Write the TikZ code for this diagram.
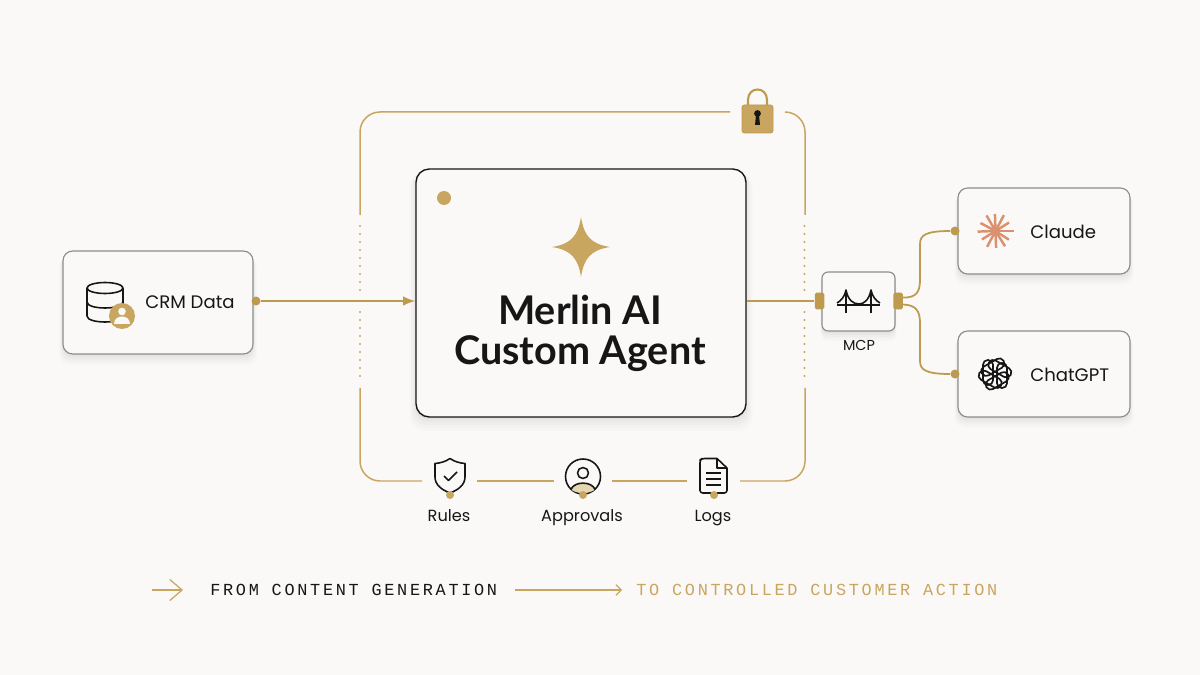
\documentclass[tikz,border=0pt]{standalone}
\usepackage{fontspec}
\setmainfont{Poppins}
\newfontfamily\titlefont{Lato}
\newfontfamily\monofont[LetterSpace=16]{Liberation Mono}
\usetikzlibrary{arrows.meta, positioning, shadows}
\definecolor{pageBg}{HTML}{FAF9F7}
\definecolor{mainBlack}{HTML}{161616}
\definecolor{borderGray}{HTML}{8C8C88}
\definecolor{softGold}{HTML}{C9A660}
\definecolor{lineGold}{HTML}{BE9A4E}
\definecolor{paleGold}{HTML}{E6D6B0}
\definecolor{rayOrange}{HTML}{DB9070}
\tikzset{
    softshadow/.style={
        drop shadow={shadow xshift=0pt, shadow yshift=-5pt, shadow scale=1.04, opacity=.012, fill=black},
        drop shadow={shadow xshift=0pt, shadow yshift=-4pt, shadow scale=1.03, opacity=.015, fill=black},
        drop shadow={shadow xshift=0pt, shadow yshift=-3pt, shadow scale=1.02, opacity=.018, fill=black},
        drop shadow={shadow xshift=0pt, shadow yshift=-2pt, shadow scale=1.01, opacity=.02, fill=black},
        drop shadow={shadow xshift=0pt, shadow yshift=-1pt, shadow scale=1.005, opacity=.025, fill=black}},
    card/.style={draw=borderGray, line width=.65pt, fill=pageBg, rounded corners=5.5pt, inner sep=0pt, softshadow},
    dotnode/.style={circle, fill=lineGold, inner sep=0pt, minimum size=.18cm},
    portnode/.style={fill=lineGold, rounded corners=1pt, inner sep=0pt, minimum width=.19cm, minimum height=.34cm},
    flow/.style={lineGold, line width=1pt},
    frameline/.style={softGold, line width=.85pt, rounded corners=.4cm},
    gate/.style={softGold, line width=1.3pt, line cap=round, dash pattern=on 0pt off 4.55pt},
    icon/.style={mainBlack, line width=.9pt, line join=round},
    cardlabel/.style={anchor=west, inner sep=0pt, mainBlack, font=\fontsize{10.3}{12}\selectfont},
    smalllabel/.style={anchor=base, inner sep=0pt, mainBlack, font=\fontsize{9.2}{11}\selectfont},
    titlelabel/.style={inner sep=0pt, mainBlack, font=\fontsize{22.5}{28}\titlefont\bfseries},
    banner/.style={anchor=west, inner sep=0pt, font=\fontsize{9.6}{11}\monofont}
}
\begin{document}
\begin{tikzpicture}[x=0.02cm, y=-0.02cm]
    \fill[pageBg] (0,0) rectangle (1200,675);
    \useasboundingbox (0,0) rectangle (1200,675);

    % Boxes
    \node[card, minimum width=3.8cm, minimum height=2.06cm] (crm) at (158,302.5) {};
    \node[card, draw=mainBlack, line width=.8pt, rounded corners=7.5pt, minimum width=6.6cm, minimum height=4.96cm] (agent) at (581,293) {};
    \node[card, rounded corners=3.5pt, minimum width=1.46cm, minimum height=1.18cm] (mcp) at (858.5,301.5) {};
    \node[card, minimum width=3.44cm, minimum height=1.72cm] (claude) at (1044,231) {};
    \node[card, minimum width=3.44cm, minimum height=1.72cm] (chatgpt) at (1044,374) {};

    % Labels
    \node[cardlabel] (crmText) at (145,302) {CRM Data};
    \node[cardlabel] (claudeText) at (1030,232) {Claude};
    \node[cardlabel] (chatgptText) at (1030,375) {ChatGPT};
    \node[titlelabel] (merlinText) at (580,310) {Merlin AI};
    \node[titlelabel] (customText) at (580,354) {Custom Agent};
    \node[inner sep=0pt, mainBlack, font=\fontsize{8.2}{10}\selectfont] (mcpText) at (859,345) {MCP};
    \node[smalllabel] (rulesText) at (449,521) {Rules};
    \node[smalllabel] (approvalsText) at (582,521) {Approvals};
    \node[smalllabel] (logsText) at (713,521) {Logs};

    % Dots and ports
    \node[dotnode] (crmOut) at (256,301) {};
    \node[dotnode] (claudeIn) at (955,231) {};
    \node[dotnode] (chatgptIn) at (955,374) {};
    \node[portnode] (portL) at (819.5,301) {};
    \node[portnode] (portR) at (898,301) {};
    \node[dotnode, fill=softGold, minimum size=.28cm] (agentDot) at (444,198) {};

    % Arrows
    \draw[flow, -{Latex[length=7pt, width=5.5pt]}] (crmOut) -- (crmOut -| agent.west);
    \draw[flow] (agent.east |- portL.west) -- (portL.west);
    \draw[flow] ([yshift=2pt]portR.east) .. controls (916,298) and (920,292) .. (920,280) -- (920,244) .. controls (920,235) and (926,231) .. (claudeIn);
    \draw[flow] ([yshift=-2pt]portR.east) .. controls (916,305) and (920,311) .. (920,323) -- (920,361) .. controls (920,370) and (926,374) .. (chatgptIn);

    % Frame
    \coordinate (topA) at (730,112); \coordinate (topB) at (360,112); \coordinate (leftA) at (360,215);
    \coordinate (leftB) at (360,388); \coordinate (botA) at (360,481); \coordinate (botB) at (422,481);
    \coordinate (botC) at (477,481); \coordinate (botD) at (554,481); \coordinate (botE) at (612,481);
    \coordinate (botF) at (687,481); \coordinate (botG) at (740,481); \coordinate (botH) at (805,481);
    \coordinate (rightA) at (805,388); \coordinate (rightB) at (805,215); \coordinate (topC) at (805,112);
    \coordinate (topD) at (785,112);
    \draw[frameline] (topA) -- (topB) -- (leftA);
    \draw[frameline] (leftB) -- (botA) -- (botB);
    \draw[frameline] (botC) -- (botD);
    \draw[frameline] (botE) -- (botF);
    \draw[frameline] (botG) -- (botH) -- (rightA);
    \draw[frameline] (rightB) -- (topC) -- (topD);
    \draw[gate] (360,226) -- (360,293);
    \draw[gate] (360,312) -- (360,379);
    \draw[gate] (804.5,226) -- (804.5,293);
    \draw[gate] (804.5,312) -- (804.5,379);

    % Star
    \fill[softGold] (581,217) .. controls (584,236) and (591,244) .. (610,247) .. controls (591,250) and (584,258) .. (581,277) .. controls (578,258) and (571,250) .. (552,247) .. controls (571,244) and (578,236) .. (581,217) -- cycle;

    % Lock
    \draw[lineGold, line width=1.2pt] (748,106) -- (748,100) .. controls (748,86) and (767,86) .. (767,100) -- (767,106);
    \fill[softGold, draw=lineGold, line width=.5pt, rounded corners=1.5pt] (742,105) rectangle (773,133);
    \fill[mainBlack] (757.5,113.5) circle [radius=3.4] (756,115) -- (759,115) -- (760,125) -- (755,125) -- cycle;

    % Database
    \draw[icon, fill=pageBg] (87,288) -- (87,316) .. controls (87,324) and (123,324) .. (123,316) -- (123,288);
    \draw[icon] (105,288) ellipse [x radius=18, y radius=5.5];
    \draw[icon] (87,302) .. controls (87,310) and (123,310) .. (123,302);
    \node[dotnode, fill=softGold, minimum size=.52cm] (crmBadge) at (122,316) {};
    \fill[pageBg] (122,311.5) circle [radius=3.8];
    \fill[pageBg] (114,324) .. controls (114,314) and (130,314) .. (130,324) -- cycle;

    % Bridge
    \draw[icon] (846,290) -- (846,313) (871,290) -- (871,313);
    \draw[icon] (837,305) -- (880,305);
    \draw[icon] (837,303) .. controls (841,301) and (845,296) .. (846,290) .. controls (848,300) and (853,304) .. (859,304) .. controls (864,304) and (869,300) .. (871,290) .. controls (872,296) and (876,301) .. (880,303);

    % Claude rays
    \foreach \a/\r in {0/18,33/16,58/18,88/17,118/18,148/16,178/18,208/17,240/18,268/17,298/18,328/16}
        \draw[rayOrange, line width=1.4pt] (995.5,231) -- ++(\a:\r);

    % ChatGPT knot
    \foreach \a in {30,90,150,210,270,330}
        \draw[icon, line width=.95pt, rounded corners=2.7pt, rotate around={\a:(995,374)}] (984,362) rectangle (1009,372);

    % Shield
    \draw[icon, fill=pageBg] (450,458.5) .. controls (455,462) and (460,463) .. (465,463.5) -- (465,477) .. controls (465,485) and (458,490) .. (450,493) .. controls (442,490) and (435,485) .. (435,477) -- (435,463.5) .. controls (440,463) and (445,462) .. (450,458.5) -- cycle;
    \draw[icon] (444,476) -- (448.5,480.5) -- (457,472);
    \node[dotnode, fill=softGold, minimum size=.16cm] (rulesDot) at (450,495) {};

    % Person
    \draw[icon] (583,476.5) circle [radius=17.5];
    \draw[icon] (583,473) circle [radius=5.5];
    \fill[paleGold] (571,489.5) .. controls (574,481) and (592,481) .. (595,489.5) .. controls (590,494) and (576,494) .. (571,489.5) -- cycle;
    \draw[icon] (571,489.5) .. controls (574,481) and (592,481) .. (595,489.5);
    \node[dotnode, fill=softGold, minimum size=.16cm] (approvalsDot) at (583,495) {};

    % Document
    \draw[icon, fill=pageBg, rounded corners=1.5pt] (717,458.5) -- (702,458.5) -- (700,460) -- (700,493) -- (727,493) -- (727,468);
    \draw[icon] (717,458.5) -- (727,468) -- (717,468) -- cycle;
    \draw[icon] (706,473) -- (721,473) (706,479) -- (721,479) (706,485) -- (721,485);
    \node[dotnode, fill=softGold, minimum size=.16cm] (logsDot) at (714,495) {};

    % Banner
    \node[banner, mainBlack] (fromText) at (210,590) {FROM CONTENT GENERATION};
    \node[banner, softGold] (toText) at (636,590) {TO CONTROLLED CUSTOMER ACTION};
    \coordinate (startArrow) at (152,590);
    \coordinate (endArrow) at (183,590);
    \coordinate (midStart) at (515,590);
    \coordinate (midEnd) at (622,590);
    \draw[softGold, line width=.7pt, -{Straight Barb[length=7pt, width=12pt]}] (startArrow) -- (endArrow);
    \draw[softGold, line width=.7pt, -{Straight Barb[length=3pt, width=6pt]}] (midStart) -- (midEnd);
\end{tikzpicture}
\end{document}
